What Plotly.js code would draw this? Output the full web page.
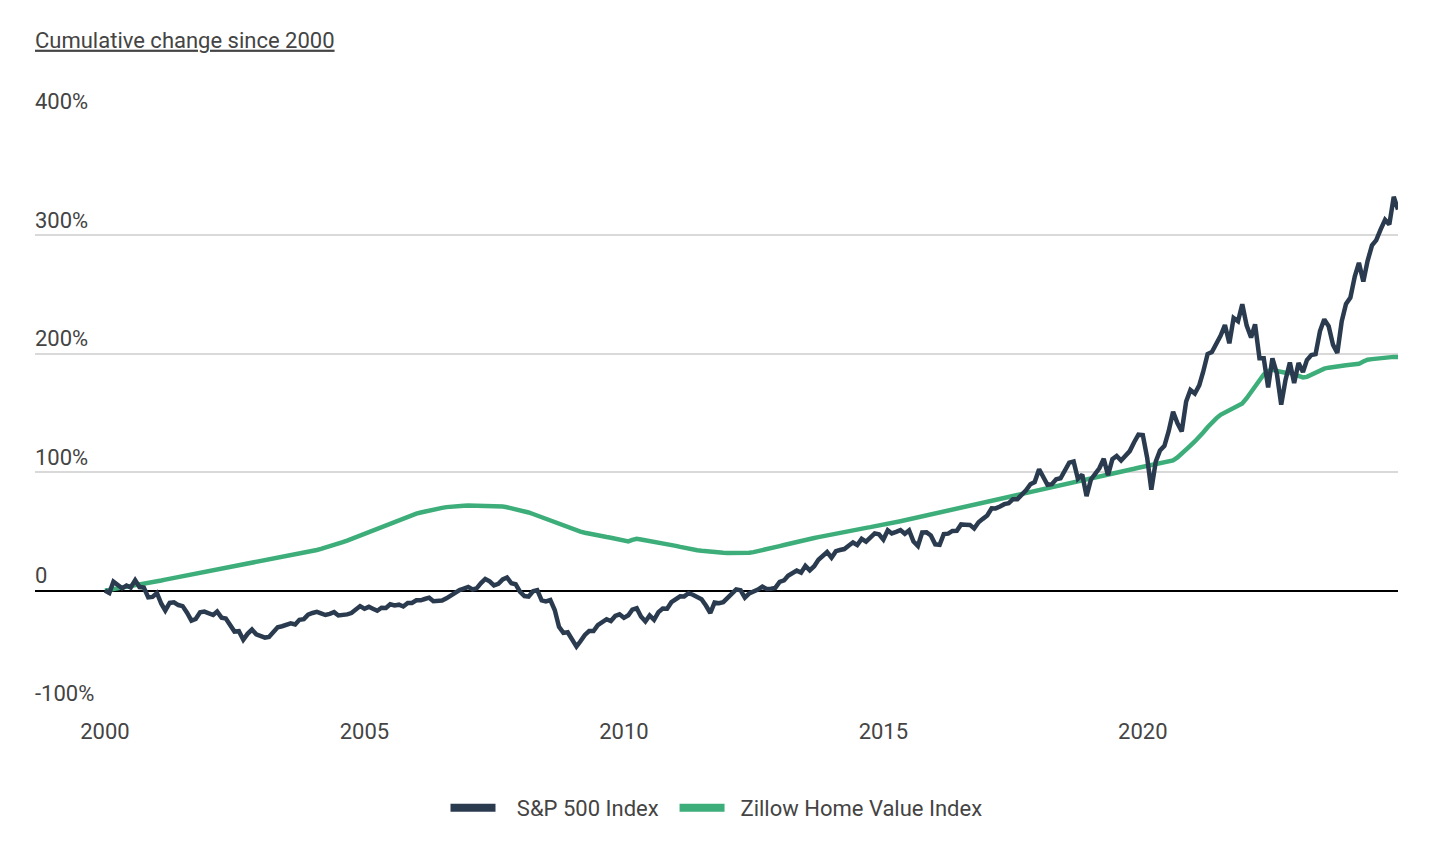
<!DOCTYPE html>
<html>
<head>
<meta charset="utf-8">
<script src="https://cdn.plot.ly/plotly-3.0.1.min.js"></script>
<style>
html,body{margin:0;padding:0;background:#ffffff;}
#chart{width:1450px;height:850px;}
</style>
</head>
<body>
<div id="chart"></div>
<script>
// Monthly observations starting January 2000 (first of each month)
const startYear = 2000;

// S&P 500 Index, cumulative % change since Jan 2000 (monthly)
const sp500Pct = [
  0.0, -2.0, 7.5, 4.2, 1.9, 4.3, 2.6, 8.8, 3.0, 2.5, -5.7, -5.3,
  -2.0, -11.1, -16.8, -10.4, -9.9, -12.2, -13.1, -18.7, -25.4, -24.0, -18.3, -17.7,
  -19.0, -20.6, -17.7, -22.8, -23.5, -29.0, -34.6, -34.3, -41.5, -36.5, -32.9, -36.9,
  -38.6, -39.7, -39.2, -34.2, -30.9, -30.1, -29.0, -27.7, -28.6, -24.7, -24.1, -20.3,
  -18.9, -17.9, -19.2, -20.6, -19.6, -18.2, -21.0, -20.8, -20.1, -19.0, -15.8, -13.1,
  -15.3, -13.7, -15.3, -17.0, -14.5, -14.6, -11.5, -12.5, -11.9, -13.4, -10.4, -10.5,
  -8.2, -8.2, -7.1, -6.0, -8.9, -8.9, -8.4, -6.5, -4.2, -1.2, 0.4, 1.7,
  3.1, 0.9, 1.9, 6.3, 9.8, 7.8, 4.4, 5.7, 9.5, 11.1, 6.2, 5.3,
  -1.1, -4.6, -5.1, -0.6, 0.4, -8.2, -9.1, -8.0, -16.4, -30.5, -35.7, -35.2,
  -40.8, -47.3, -42.8, -37.4, -34.1, -34.1, -29.2, -26.8, -24.2, -25.7, -21.4, -20.0,
  -23.0, -20.8, -16.1, -14.9, -21.9, -26.1, -21.0, -24.7, -18.2, -15.1, -15.3, -9.8,
  -7.8, -4.8, -4.9, -2.2, -3.5, -5.3, -7.3, -12.6, -18.9, -10.1, -10.6, -9.8,
  -5.9, -2.1, 1.0, 0.2, -6.0, -2.3, -1.1, 0.9, 3.3, 1.3, 1.6, 2.3,
  7.4, 8.6, 12.5, 14.6, 16.9, 15.2, 20.9, 17.1, 20.6, 26.0, 29.5, 32.6,
  27.8, 33.3, 34.3, 35.1, 37.9, 40.6, 38.5, 43.7, 41.4, 44.7, 48.3, 47.6,
  43.1, 50.9, 48.3, 49.6, 51.1, 48.0, 50.9, 41.4, 37.7, 49.1, 49.2, 46.6,
  39.1, 38.6, 47.7, 48.1, 50.4, 50.5, 55.9, 55.7, 55.5, 52.5, 57.7, 60.6,
  63.4, 69.5, 69.4, 71.0, 73.0, 73.8, 77.2, 77.2, 80.7, 84.7, 89.9, 91.7,
  102.5, 94.6, 89.4, 89.9, 94.0, 94.9, 102.0, 108.1, 109.0, 94.5, 97.9, 79.8,
  93.9, 99.7, 103.3, 111.3, 97.4, 111.0, 113.7, 109.9, 113.5, 117.8, 125.3, 131.7,
  131.3, 111.9, 85.3, 108.9, 118.3, 122.3, 134.6, 151.0, 141.2, 134.5, 159.7, 169.4,
  166.4, 173.3, 184.9, 199.8, 201.5, 208.2, 215.2, 224.3, 208.9, 230.3, 227.5, 241.8,
  223.8, 213.7, 224.9, 196.3, 196.3, 171.5, 196.2, 183.6, 157.1, 177.7, 192.6, 175.3,
  192.3, 184.7, 194.7, 199.0, 199.7, 219.2, 229.1, 223.3, 207.5, 200.8, 227.6, 242.1,
  247.5, 265.5, 276.8, 261.1, 278.5, 291.6, 296.0, 305.1, 313.2, 309.2, 332.6, 321.8
];

// Zillow Home Value Index, cumulative % change since Jan 2000 (monthly)
const zillowPct = [
  0.0, 0.6, 1.2, 1.8, 2.5, 3.1, 3.8, 4.4, 5.1, 5.8, 6.5, 7.2,
  7.9, 8.6, 9.3, 10.0, 10.7, 11.4, 12.0, 12.7, 13.4, 14.1, 14.8, 15.5,
  16.2, 16.9, 17.5, 18.2, 18.9, 19.6, 20.3, 21.0, 21.7, 22.5, 23.2, 23.9,
  24.6, 25.3, 26.0, 26.7, 27.4, 28.1, 28.8, 29.5, 30.2, 31.0, 31.8, 32.6,
  33.4, 34.3, 35.2, 36.2, 37.3, 38.5, 39.7, 41.0, 42.3, 43.7, 45.1, 46.5,
  48.0, 49.5, 51.0, 52.5, 54.0, 55.5, 57.0, 58.5, 60.0, 61.4, 62.7, 63.9,
  65.0, 66.0, 66.9, 67.7, 68.5, 69.2, 69.9, 70.5, 71.0, 71.4, 71.6, 71.7,
  71.8, 71.8, 71.8, 71.8, 71.8, 71.8, 71.7, 71.4, 71.0, 70.4, 69.7, 69.0,
  68.0, 67.0, 66.0, 64.7, 63.3, 61.9, 60.5, 59.0, 57.5, 56.0, 54.6, 53.3,
  52.0, 50.8, 49.8, 48.9, 48.0, 47.2, 46.5, 45.8, 45.2, 44.6, 44.0, 43.4,
  42.0, 41.6, 42.8, 43.8, 43.2, 42.6, 42.0, 41.4, 40.7, 40.0, 39.3, 38.6,
  37.8, 36.9, 36.1, 35.4, 34.7, 34.1, 33.6, 33.1, 32.7, 32.4, 32.1, 31.9,
  31.8, 31.7, 31.7, 31.7, 31.8, 32.0, 32.5, 33.2, 34.0, 34.9, 35.8, 36.7,
  37.6, 38.5, 39.4, 40.3, 41.2, 42.0, 42.8, 43.6, 44.4, 45.2, 46.0, 46.8,
  47.6, 48.4, 49.1, 49.8, 50.5, 51.2, 51.8, 52.4, 53.0, 53.6, 54.2, 54.8,
  55.4, 56.2, 57.0, 57.8, 58.6, 59.4, 60.2, 61.0, 61.8, 62.6, 63.4, 64.2,
  65.0, 65.8, 66.6, 67.4, 68.2, 69.0, 69.8, 70.6, 71.4, 72.2, 73.0, 73.8,
  74.6, 75.4, 76.2, 77.0, 77.8, 78.6, 79.4, 80.2, 81.0, 81.8, 82.6, 83.4,
  84.2, 85.0, 85.8, 86.6, 87.4, 88.2, 89.0, 89.8, 90.6, 91.4, 92.2, 93.0,
  93.9, 94.8, 95.7, 96.6, 97.5, 98.4, 99.3, 100.2, 101.1, 102.0, 102.9, 103.8,
  104.5, 105.2, 105.9, 106.6, 107.2, 107.8, 108.5, 110.0, 112.5, 115.5, 119.0, 122.5,
  126.0, 129.5, 133.5, 138.0, 142.0, 145.5, 148.5, 150.5, 152.5, 154.0, 155.5, 158.0,
  162.5, 167.5, 173.0, 178.0, 182.5, 185.5, 186.7, 185.5, 184.5, 184.0, 183.8, 182.5,
  181.0, 180.0, 180.5, 182.5, 184.5, 186.5, 187.5, 188.3, 189.0, 189.7, 190.0, 190.3,
  190.7, 191.2, 191.5, 193.5, 195.0, 195.5, 196.0, 196.3, 196.8, 197.2, 197.4, 197.4
];

const seriesNames = ['S&P 500 Index', 'Zillow Home Value Index'];
const seriesColors = ['#2b3b4f', '#3dae7a'];
const yTickVals = [-100, 0, 100, 200, 300, 400];
const yTickLabels = ['-100%', '0', '100%', '200%', '300%', '400%'];
const xTickYears = ['2000', '2005', '2010', '2015', '2020'];
const chartTitle = 'Cumulative change since 2000';

function monthDates(n) {
  const out = [];
  for (let i = 0; i < n; i++) {
    const y = startYear + Math.floor(i / 12);
    const m = (i % 12) + 1;
    out.push(y + '-' + String(m).padStart(2, '0') + '-01');
  }
  return out;
}

const dates = monthDates(sp500Pct.length);
const NB = '\u00a0';

const traces = [
  {
    type: 'scatter', mode: 'lines', name: seriesNames[1],
    x: dates, y: zillowPct, showlegend: false,
    line: {color: seriesColors[1], width: 4.5, shape: 'linear'},
    hoverinfo: 'x+y'
  },
  {
    type: 'scatter', mode: 'lines', name: seriesNames[0],
    x: dates, y: sp500Pct, showlegend: false,
    line: {color: seriesColors[0], width: 4.5, shape: 'linear'},
    hoverinfo: 'x+y'
  },
  // legend entries (thicker swatches, as in the original)
  {
    type: 'scatter', mode: 'lines', name: NB + NB + NB + seriesNames[0] + NB + NB,
    x: [null], y: [null], showlegend: true, hoverinfo: 'skip',
    line: {color: seriesColors[0], width: 8}
  },
  {
    type: 'scatter', mode: 'lines', name: NB + NB + seriesNames[1],
    x: [null], y: [null], showlegend: true, hoverinfo: 'skip',
    line: {color: seriesColors[1], width: 8}
  }
];

const layout = {
  width: 1450,
  height: 850,
  margin: {l: 35, r: 52, t: 117, b: 141, pad: 0},
  paper_bgcolor: '#ffffff',
  plot_bgcolor: '#ffffff',
  font: {family: 'Roboto, "Open Sans", sans-serif', size: 22, color: '#444444'},
  title: {
    text: '<u>' + chartTitle + '</u>',
    x: 0, xref: 'paper', xanchor: 'left',
    y: 1 - 40 / 850, yref: 'container', yanchor: 'middle',
    font: {family: 'Roboto, sans-serif', size: 22, color: '#444444'}
  },
  xaxis: {
    type: 'date',
    range: ['1998-08-27', '2024-12-01'],
    tickvals: xTickYears.map(y => y + '-01-01'),
    ticktext: xTickYears,
    showgrid: false,
    zeroline: false,
    showline: false,
    ticks: '',
    ticklabelstandoff: 7,
    tickfont: {size: 22, color: '#444444'},
    fixedrange: true
  },
  yaxis: {
    range: [-100, 400],
    tickvals: yTickVals,
    ticktext: yTickLabels,
    ticklabelposition: 'inside top',
    ticklabeloverflow: 'allow',
    ticklabelstandoff: -3,
    showgrid: true,
    gridcolor: '#d9d9d9',
    gridwidth: 2,
    zeroline: true,
    zerolinecolor: '#000000',
    zerolinewidth: 2,
    showline: false,
    ticks: '',
    tickfont: {size: 22, color: '#444444'},
    fixedrange: true
  },
  legend: {
    orientation: 'h',
    x: 0.5, xanchor: 'center',
    y: -0.167, yanchor: 'middle',
    font: {size: 22, color: '#444444'},
    itemwidth: 45,
    traceorder: 'normal',
    bgcolor: 'rgba(0,0,0,0)'
  },
  showlegend: true
};

Plotly.newPlot('chart', traces, layout, {displayModeBar: false, staticPlot: true});
</script>
</body>
</html>
